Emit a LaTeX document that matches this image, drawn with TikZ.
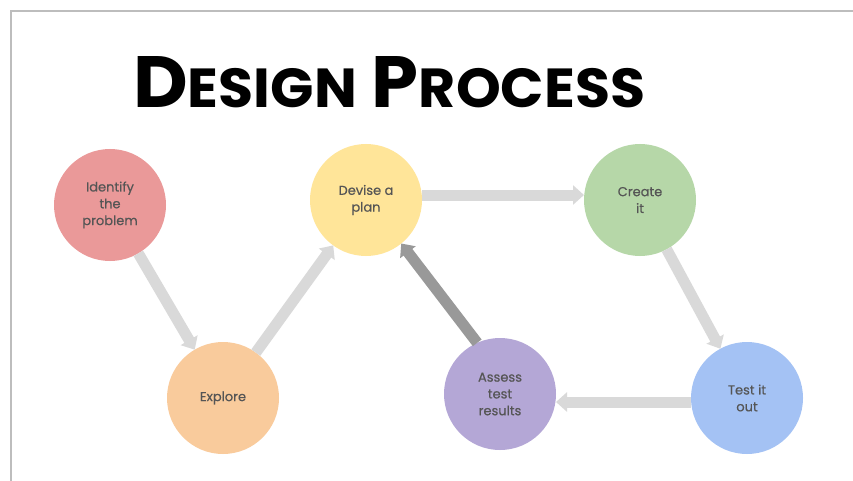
\documentclass[tikz,border=0pt]{standalone}
\usepackage{fontspec}
\usepackage{graphicx}
\usetikzlibrary{arrows.meta}
\setmainfont{Poppins}
\newfontfamily\labelfont{Poppins}[FakeBold=0.5]
\newfontfamily\titlefont{Poppins}
\definecolor{cRed}{HTML}{EA9999}
\definecolor{cOrange}{HTML}{F9CB9C}
\definecolor{cYellow}{HTML}{FFE599}
\definecolor{cGreen}{HTML}{B6D7A8}
\definecolor{cBlue}{HTML}{A4C2F4}
\definecolor{cPurple}{HTML}{B4A7D6}
\definecolor{arrLight}{HTML}{D9D9D9}
\definecolor{arrDark}{HTML}{999999}
\definecolor{txtGray}{HTML}{555555}
\definecolor{frameGray}{HTML}{BDBDBD}
\tikzset{
  stage/.style={circle, minimum size=112pt, inner sep=0pt, outer sep=0pt,
    align=center, text=txtGray, font=\labelfont\fontsize{13}{16.8}\selectfont},
  flow/.style={line width=11pt, draw=arrLight,
    -{Triangle[width=19pt,length=11pt]}},
  backflow/.style={flow, draw=arrDark}
}
\begin{document}
\begin{tikzpicture}[x=1pt,y=-1pt]
\useasboundingbox (0,0) rectangle (853,481);
\fill[white] (0,0) rectangle (853,481);
% frame
\draw[frameGray, line width=2pt] (10.5,481) -- (10.5,11) -- (853,11);
% title
\node[anchor=south west, inner sep=0pt] (title) at (133,108)
  {\resizebox{512pt}{51pt}{\titlefont\bfseries
   {\fontsize{70}{70}\selectfont D}{\fontsize{53}{53}\selectfont ESIGN}%
   \hspace{14pt}%
   {\fontsize{70}{70}\selectfont P}{\fontsize{53}{53}\selectfont ROCESS}}};
% stages
\node[stage, fill=cRed]    (ide) at (110,205) {Identify\\the\\problem};
\node[stage, fill=cOrange] (exp) at (223,398) {Explore};
\node[stage, fill=cYellow] (dev) at (366,200) {Devise a\\plan};
\node[stage, fill=cGreen]  (cre) at (640,200) {Create\\it};
\node[stage, fill=cBlue]   (tst) at (747,398) {Test it\\out};
\node[stage, fill=cPurple] (ass) at (500,394) {Assess\\test\\results};
% connectors
\draw[flow] (ide) -- (exp);
\draw[flow] (exp) -- (dev);
\draw[flow] ([yshift=5pt]dev.east) -- ([yshift=5pt]cre.west);
\draw[flow] (cre) -- (tst);
\draw[flow] ([yshift=-4pt]tst.west) -- ([yshift=-8pt]ass.east);
\draw[backflow] (ass.114) -- (dev.309);
\end{tikzpicture}
\end{document}
